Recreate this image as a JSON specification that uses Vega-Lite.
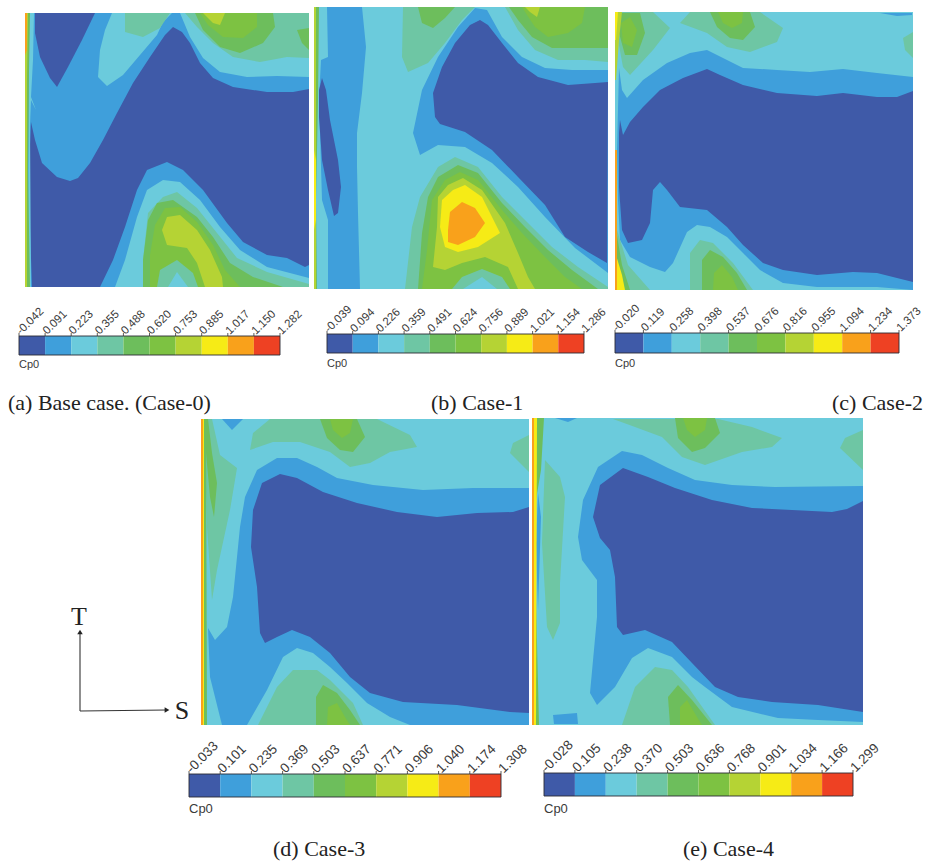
{"$schema":"https://vega.github.io/schema/vega-lite/v6.json","width":928,"height":861,"padding":0,"autosize":{"type":"none"},"background":"white","config":{"view":{"stroke":null}},
"datasets":{
"bars":[
{"bar":"a","x":19,"x2":45.1,"top":336,"bot":355,"tt":333,"tick":"-0.042","lev":0},{"bar":"a","x":45.1,"x2":71.2,"top":336,"bot":355,"tt":333,"tick":"0.091","lev":1},{"bar":"a","x":71.2,"x2":97.3,"top":336,"bot":355,"tt":333,"tick":"0.223","lev":2},{"bar":"a","x":97.3,"x2":123.4,"top":336,"bot":355,"tt":333,"tick":"0.355","lev":3},{"bar":"a","x":123.4,"x2":149.5,"top":336,"bot":355,"tt":333,"tick":"0.488","lev":4},{"bar":"a","x":149.5,"x2":175.6,"top":336,"bot":355,"tt":333,"tick":"0.620","lev":5},{"bar":"a","x":175.6,"x2":201.7,"top":336,"bot":355,"tt":333,"tick":"0.753","lev":6},{"bar":"a","x":201.7,"x2":227.8,"top":336,"bot":355,"tt":333,"tick":"0.885","lev":7},{"bar":"a","x":227.8,"x2":253.9,"top":336,"bot":355,"tt":333,"tick":"1.017","lev":8},{"bar":"a","x":253.9,"x2":280,"top":336,"bot":355,"tt":333,"tick":"1.150","lev":9},{"bar":"a","x":280,"top":336,"bot":355,"tt":333,"tick":"1.282"},
{"bar":"b","x":327,"x2":352.7,"top":334,"bot":353,"tt":331,"tick":"-0.039","lev":0},{"bar":"b","x":352.7,"x2":378.4,"top":334,"bot":353,"tt":331,"tick":"0.094","lev":1},{"bar":"b","x":378.4,"x2":404.1,"top":334,"bot":353,"tt":331,"tick":"0.226","lev":2},{"bar":"b","x":404.1,"x2":429.8,"top":334,"bot":353,"tt":331,"tick":"0.359","lev":3},{"bar":"b","x":429.8,"x2":455.5,"top":334,"bot":353,"tt":331,"tick":"0.491","lev":4},{"bar":"b","x":455.5,"x2":481.2,"top":334,"bot":353,"tt":331,"tick":"0.624","lev":5},{"bar":"b","x":481.2,"x2":506.9,"top":334,"bot":353,"tt":331,"tick":"0.756","lev":6},{"bar":"b","x":506.9,"x2":532.6,"top":334,"bot":353,"tt":331,"tick":"0.889","lev":7},{"bar":"b","x":532.6,"x2":558.3,"top":334,"bot":353,"tt":331,"tick":"1.021","lev":8},{"bar":"b","x":558.3,"x2":584,"top":334,"bot":353,"tt":331,"tick":"1.154","lev":9},{"bar":"b","x":584,"top":334,"bot":353,"tt":331,"tick":"1.286"},
{"bar":"c","x":615,"x2":643.4,"top":333,"bot":353,"tt":330,"tick":"-0.020","lev":0},{"bar":"c","x":643.4,"x2":671.8,"top":333,"bot":353,"tt":330,"tick":"0.119","lev":1},{"bar":"c","x":671.8,"x2":700.2,"top":333,"bot":353,"tt":330,"tick":"0.258","lev":2},{"bar":"c","x":700.2,"x2":728.6,"top":333,"bot":353,"tt":330,"tick":"0.398","lev":3},{"bar":"c","x":728.6,"x2":757,"top":333,"bot":353,"tt":330,"tick":"0.537","lev":4},{"bar":"c","x":757,"x2":785.4,"top":333,"bot":353,"tt":330,"tick":"0.676","lev":5},{"bar":"c","x":785.4,"x2":813.8,"top":333,"bot":353,"tt":330,"tick":"0.816","lev":6},{"bar":"c","x":813.8,"x2":842.2,"top":333,"bot":353,"tt":330,"tick":"0.955","lev":7},{"bar":"c","x":842.2,"x2":870.6,"top":333,"bot":353,"tt":330,"tick":"1.094","lev":8},{"bar":"c","x":870.6,"x2":899,"top":333,"bot":353,"tt":330,"tick":"1.234","lev":9},{"bar":"c","x":899,"top":333,"bot":353,"tt":330,"tick":"1.373"},
{"bar":"d","x":189,"x2":220.2,"top":774,"bot":797,"tt":771,"tick":"-0.033","lev":0},{"bar":"d","x":220.2,"x2":251.4,"top":774,"bot":797,"tt":771,"tick":"0.101","lev":1},{"bar":"d","x":251.4,"x2":282.6,"top":774,"bot":797,"tt":771,"tick":"0.235","lev":2},{"bar":"d","x":282.6,"x2":313.8,"top":774,"bot":797,"tt":771,"tick":"0.369","lev":3},{"bar":"d","x":313.8,"x2":345,"top":774,"bot":797,"tt":771,"tick":"0.503","lev":4},{"bar":"d","x":345,"x2":376.2,"top":774,"bot":797,"tt":771,"tick":"0.637","lev":5},{"bar":"d","x":376.2,"x2":407.4,"top":774,"bot":797,"tt":771,"tick":"0.771","lev":6},{"bar":"d","x":407.4,"x2":438.6,"top":774,"bot":797,"tt":771,"tick":"0.906","lev":7},{"bar":"d","x":438.6,"x2":469.8,"top":774,"bot":797,"tt":771,"tick":"1.040","lev":8},{"bar":"d","x":469.8,"x2":501,"top":774,"bot":797,"tt":771,"tick":"1.174","lev":9},{"bar":"d","x":501,"top":774,"bot":797,"tt":771,"tick":"1.308"},
{"bar":"e","x":544,"x2":574.9,"top":773,"bot":796,"tt":770,"tick":"-0.028","lev":0},{"bar":"e","x":574.9,"x2":605.8,"top":773,"bot":796,"tt":770,"tick":"0.105","lev":1},{"bar":"e","x":605.8,"x2":636.7,"top":773,"bot":796,"tt":770,"tick":"0.238","lev":2},{"bar":"e","x":636.7,"x2":667.6,"top":773,"bot":796,"tt":770,"tick":"0.370","lev":3},{"bar":"e","x":667.6,"x2":698.5,"top":773,"bot":796,"tt":770,"tick":"0.503","lev":4},{"bar":"e","x":698.5,"x2":729.4,"top":773,"bot":796,"tt":770,"tick":"0.636","lev":5},{"bar":"e","x":729.4,"x2":760.3,"top":773,"bot":796,"tt":770,"tick":"0.768","lev":6},{"bar":"e","x":760.3,"x2":791.2,"top":773,"bot":796,"tt":770,"tick":"0.901","lev":7},{"bar":"e","x":791.2,"x2":822.1,"top":773,"bot":796,"tt":770,"tick":"1.034","lev":8},{"bar":"e","x":822.1,"x2":853,"top":773,"bot":796,"tt":770,"tick":"1.166","lev":9},{"bar":"e","x":853,"top":773,"bot":796,"tt":770,"tick":"1.299"}
],
"frames":[{"x":19,"x2":280,"y":336,"y2":355,"row":"top"},{"x":327,"x2":584,"y":334,"y2":353,"row":"top"},{"x":615,"x2":899,"y":333,"y2":353,"row":"top"},{"x":189,"x2":501,"y":774,"y2":797,"row":"bottom"},{"x":544,"x2":853,"y":773,"y2":796,"row":"bottom"}],
"cp":[{"x":19,"y":365,"t":"Cp0","row":"top"},{"x":327,"y":364,"t":"Cp0","row":"top"},{"x":615,"y":364,"t":"Cp0","row":"top"},{"x":189,"y":809,"t":"Cp0","row":"bottom"},{"x":544,"y":809,"t":"Cp0","row":"bottom"}],
"caps":[{"x":8,"y":403,"t":"(a) Base case. (Case-0)"},{"x":431,"y":403,"t":"(b) Case-1"},{"x":832,"y":403,"t":"(c) Case-2"},{"x":273,"y":849,"t":"(d) Case-3"},{"x":683,"y":849,"t":"(e) Case-4"}],
"axes":[{"x":80,"y":711,"x2":80,"y2":634},{"x":80,"y":711,"x2":166,"y2":710}],
"heads":[{"x":80,"y":632,"dir":"up"},{"x":167,"y":710,"dir":"right"}],
"letters":[{"x":79,"y":617,"t":"T"},{"x":182,"y":711,"t":"S"}],
"poly":[
{"id":"a0","lev":1,"x":25,"y":13},{"id":"a0","lev":1,"x":309,"y":13},{"id":"a0","lev":1,"x":309,"y":287},{"id":"a0","lev":1,"x":25,"y":287},
{"id":"a1","lev":0,"x":309,"y":89},{"id":"a1","lev":0,"x":293,"y":92},{"id":"a1","lev":0,"x":267,"y":92},{"id":"a1","lev":0,"x":233,"y":87},{"id":"a1","lev":0,"x":213,"y":78},{"id":"a1","lev":0,"x":200,"y":63},{"id":"a1","lev":0,"x":190,"y":43},{"id":"a1","lev":0,"x":182,"y":32},{"id":"a1","lev":0,"x":173,"y":27},{"id":"a1","lev":0,"x":165,"y":35},{"id":"a1","lev":0,"x":150,"y":57},{"id":"a1","lev":0,"x":133,"y":83},{"id":"a1","lev":0,"x":117,"y":113},{"id":"a1","lev":0,"x":103,"y":140},{"id":"a1","lev":0,"x":90,"y":163},{"id":"a1","lev":0,"x":78,"y":178},{"id":"a1","lev":0,"x":70,"y":181},{"id":"a1","lev":0,"x":57,"y":177},{"id":"a1","lev":0,"x":42,"y":163},{"id":"a1","lev":0,"x":35,"y":140},{"id":"a1","lev":0,"x":31,"y":122},{"id":"a1","lev":0,"x":29,"y":167},{"id":"a1","lev":0,"x":29,"y":200},{"id":"a1","lev":0,"x":32,"y":287},{"id":"a1","lev":0,"x":100,"y":287},{"id":"a1","lev":0,"x":113,"y":260},{"id":"a1","lev":0,"x":125,"y":227},{"id":"a1","lev":0,"x":137,"y":190},{"id":"a1","lev":0,"x":147,"y":170},{"id":"a1","lev":0,"x":167,"y":162},{"id":"a1","lev":0,"x":183,"y":170},{"id":"a1","lev":0,"x":203,"y":190},{"id":"a1","lev":0,"x":227,"y":223},{"id":"a1","lev":0,"x":243,"y":242},{"id":"a1","lev":0,"x":267,"y":255},{"id":"a1","lev":0,"x":287,"y":258},{"id":"a1","lev":0,"x":305,"y":267},{"id":"a1","lev":0,"x":309,"y":265},
{"id":"a2","lev":0,"x":35,"y":13},{"id":"a2","lev":0,"x":95,"y":13},{"id":"a2","lev":0,"x":82,"y":40},{"id":"a2","lev":0,"x":68,"y":67},{"id":"a2","lev":0,"x":57,"y":87},{"id":"a2","lev":0,"x":50,"y":78},{"id":"a2","lev":0,"x":40,"y":57},{"id":"a2","lev":0,"x":35,"y":33},
{"id":"a3","lev":2,"x":112,"y":13},{"id":"a3","lev":2,"x":172,"y":13},{"id":"a3","lev":2,"x":163,"y":22},{"id":"a3","lev":2,"x":157,"y":35},{"id":"a3","lev":2,"x":140,"y":55},{"id":"a3","lev":2,"x":123,"y":75},{"id":"a3","lev":2,"x":107,"y":86},{"id":"a3","lev":2,"x":98,"y":77},{"id":"a3","lev":2,"x":100,"y":50},{"id":"a3","lev":2,"x":105,"y":30},
{"id":"a4","lev":2,"x":180,"y":13},{"id":"a4","lev":2,"x":309,"y":13},{"id":"a4","lev":2,"x":309,"y":77},{"id":"a4","lev":2,"x":277,"y":76},{"id":"a4","lev":2,"x":247,"y":77},{"id":"a4","lev":2,"x":220,"y":72},{"id":"a4","lev":2,"x":203,"y":58},{"id":"a4","lev":2,"x":190,"y":37},
{"id":"a5","lev":3,"x":125,"y":13},{"id":"a5","lev":3,"x":170,"y":13},{"id":"a5","lev":3,"x":160,"y":28},{"id":"a5","lev":3,"x":143,"y":37},{"id":"a5","lev":3,"x":125,"y":32},
{"id":"a6","lev":3,"x":185,"y":13},{"id":"a6","lev":3,"x":309,"y":13},{"id":"a6","lev":3,"x":309,"y":58},{"id":"a6","lev":3,"x":287,"y":57},{"id":"a6","lev":3,"x":260,"y":62},{"id":"a6","lev":3,"x":233,"y":57},{"id":"a6","lev":3,"x":213,"y":43},{"id":"a6","lev":3,"x":197,"y":27},
{"id":"a7","lev":4,"x":195,"y":13},{"id":"a7","lev":4,"x":273,"y":13},{"id":"a7","lev":4,"x":275,"y":27},{"id":"a7","lev":4,"x":263,"y":43},{"id":"a7","lev":4,"x":240,"y":53},{"id":"a7","lev":4,"x":220,"y":47},{"id":"a7","lev":4,"x":203,"y":30},
{"id":"a8","lev":4,"x":297,"y":30},{"id":"a8","lev":4,"x":309,"y":28},{"id":"a8","lev":4,"x":309,"y":50},{"id":"a8","lev":4,"x":302,"y":43},
{"id":"a9","lev":5,"x":200,"y":13},{"id":"a9","lev":5,"x":257,"y":13},{"id":"a9","lev":5,"x":257,"y":27},{"id":"a9","lev":5,"x":243,"y":38},{"id":"a9","lev":5,"x":223,"y":37},{"id":"a9","lev":5,"x":208,"y":25},
{"id":"a10","lev":6,"x":203,"y":13},{"id":"a10","lev":6,"x":225,"y":13},{"id":"a10","lev":6,"x":220,"y":25},{"id":"a10","lev":6,"x":213,"y":23},
{"id":"a11","lev":2,"x":115,"y":287},{"id":"a11","lev":2,"x":125,"y":260},{"id":"a11","lev":2,"x":137,"y":217},{"id":"a11","lev":2,"x":147,"y":190},{"id":"a11","lev":2,"x":163,"y":180},{"id":"a11","lev":2,"x":180,"y":182},{"id":"a11","lev":2,"x":200,"y":200},{"id":"a11","lev":2,"x":220,"y":227},{"id":"a11","lev":2,"x":240,"y":250},{"id":"a11","lev":2,"x":267,"y":267},{"id":"a11","lev":2,"x":309,"y":278},{"id":"a11","lev":2,"x":309,"y":287},
{"id":"a12","lev":3,"x":143,"y":287},{"id":"a12","lev":3,"x":143,"y":260},{"id":"a12","lev":3,"x":148,"y":213},{"id":"a12","lev":3,"x":163,"y":197},{"id":"a12","lev":3,"x":177,"y":192},{"id":"a12","lev":3,"x":197,"y":208},{"id":"a12","lev":3,"x":217,"y":233},{"id":"a12","lev":3,"x":237,"y":258},{"id":"a12","lev":3,"x":267,"y":272},{"id":"a12","lev":3,"x":309,"y":284},{"id":"a12","lev":3,"x":309,"y":287},
{"id":"a13","lev":4,"x":143,"y":287},{"id":"a13","lev":4,"x":143,"y":260},{"id":"a13","lev":4,"x":148,"y":220},{"id":"a13","lev":4,"x":157,"y":203},{"id":"a13","lev":4,"x":173,"y":200},{"id":"a13","lev":4,"x":197,"y":217},{"id":"a13","lev":4,"x":213,"y":237},{"id":"a13","lev":4,"x":230,"y":263},{"id":"a13","lev":4,"x":253,"y":277},{"id":"a13","lev":4,"x":283,"y":287},
{"id":"a14","lev":5,"x":150,"y":287},{"id":"a14","lev":5,"x":150,"y":255},{"id":"a14","lev":5,"x":155,"y":225},{"id":"a14","lev":5,"x":165,"y":208},{"id":"a14","lev":5,"x":180,"y":207},{"id":"a14","lev":5,"x":197,"y":222},{"id":"a14","lev":5,"x":213,"y":245},{"id":"a14","lev":5,"x":225,"y":270},{"id":"a14","lev":5,"x":240,"y":287},
{"id":"a15","lev":6,"x":162,"y":230},{"id":"a15","lev":6,"x":167,"y":217},{"id":"a15","lev":6,"x":180,"y":215},{"id":"a15","lev":6,"x":197,"y":230},{"id":"a15","lev":6,"x":210,"y":250},{"id":"a15","lev":6,"x":222,"y":277},{"id":"a15","lev":6,"x":223,"y":287},{"id":"a15","lev":6,"x":205,"y":287},{"id":"a15","lev":6,"x":197,"y":263},{"id":"a15","lev":6,"x":187,"y":248},{"id":"a15","lev":6,"x":167,"y":245},
{"id":"a17","lev":3,"x":157,"y":287},{"id":"a17","lev":3,"x":160,"y":270},{"id":"a17","lev":3,"x":177,"y":260},{"id":"a17","lev":3,"x":193,"y":273},{"id":"a17","lev":3,"x":198,"y":287},
{"id":"a18","lev":2,"x":168,"y":287},{"id":"a18","lev":2,"x":177,"y":272},{"id":"a18","lev":2,"x":188,"y":287},
{"id":"a19","lev":2,"x":29,"y":13},{"id":"a19","lev":2,"x":34,"y":13},{"id":"a19","lev":2,"x":33,"y":60},{"id":"a19","lev":2,"x":31,"y":97},{"id":"a19","lev":2,"x":36,"y":110},{"id":"a19","lev":2,"x":31,"y":100},{"id":"a19","lev":2,"x":30,"y":125},{"id":"a19","lev":2,"x":31,"y":287},{"id":"a19","lev":2,"x":28,"y":287},
{"id":"a20","lev":4,"x":25,"y":13},{"id":"a20","lev":4,"x":30,"y":13},{"id":"a20","lev":4,"x":29,"y":70},{"id":"a20","lev":4,"x":28,"y":170},{"id":"a20","lev":4,"x":30,"y":287},{"id":"a20","lev":4,"x":25,"y":287},
{"id":"a21","lev":6,"x":25,"y":13},{"id":"a21","lev":6,"x":28,"y":13},{"id":"a21","lev":6,"x":27,"y":80},{"id":"a21","lev":6,"x":27,"y":287},{"id":"a21","lev":6,"x":25,"y":287},
{"id":"a22","lev":8,"x":25,"y":13},{"id":"a22","lev":8,"x":27,"y":13},{"id":"a22","lev":8,"x":27,"y":50},{"id":"a22","lev":8,"x":25,"y":55},
{"id":"b0","lev":2,"x":314,"y":7},{"id":"b0","lev":2,"x":608,"y":7},{"id":"b0","lev":2,"x":608,"y":289},{"id":"b0","lev":2,"x":314,"y":289},
{"id":"b1","lev":1,"x":327,"y":7},{"id":"b1","lev":1,"x":362,"y":7},{"id":"b1","lev":1,"x":366,"y":47},{"id":"b1","lev":1,"x":362,"y":93},{"id":"b1","lev":1,"x":357,"y":133},{"id":"b1","lev":1,"x":357,"y":167},{"id":"b1","lev":1,"x":358,"y":213},{"id":"b1","lev":1,"x":360,"y":289},{"id":"b1","lev":1,"x":328,"y":289},{"id":"b1","lev":1,"x":328,"y":220},{"id":"b1","lev":1,"x":322,"y":200},{"id":"b1","lev":1,"x":319,"y":100},{"id":"b1","lev":1,"x":321,"y":60},{"id":"b1","lev":1,"x":328,"y":57},
{"id":"b2","lev":0,"x":322,"y":78},{"id":"b2","lev":0,"x":326,"y":90},{"id":"b2","lev":0,"x":330,"y":120},{"id":"b2","lev":0,"x":338,"y":160},{"id":"b2","lev":0,"x":341,"y":187},{"id":"b2","lev":0,"x":338,"y":213},{"id":"b2","lev":0,"x":334,"y":216},{"id":"b2","lev":0,"x":328,"y":190},{"id":"b2","lev":0,"x":322,"y":160},{"id":"b2","lev":0,"x":319,"y":117},{"id":"b2","lev":0,"x":319,"y":90},
{"id":"b3","lev":3,"x":403,"y":7},{"id":"b3","lev":3,"x":475,"y":7},{"id":"b3","lev":3,"x":462,"y":20},{"id":"b3","lev":3,"x":445,"y":43},{"id":"b3","lev":3,"x":428,"y":63},{"id":"b3","lev":3,"x":408,"y":72},{"id":"b3","lev":3,"x":402,"y":57},
{"id":"b4","lev":4,"x":418,"y":7},{"id":"b4","lev":4,"x":455,"y":7},{"id":"b4","lev":4,"x":445,"y":18},{"id":"b4","lev":4,"x":433,"y":28},{"id":"b4","lev":4,"x":422,"y":23},
{"id":"b5","lev":1,"x":475,"y":8},{"id":"b5","lev":1,"x":458,"y":27},{"id":"b5","lev":1,"x":438,"y":57},{"id":"b5","lev":1,"x":422,"y":90},{"id":"b5","lev":1,"x":413,"y":133},{"id":"b5","lev":1,"x":420,"y":155},{"id":"b5","lev":1,"x":438,"y":145},{"id":"b5","lev":1,"x":465,"y":147},{"id":"b5","lev":1,"x":492,"y":163},{"id":"b5","lev":1,"x":518,"y":187},{"id":"b5","lev":1,"x":545,"y":217},{"id":"b5","lev":1,"x":575,"y":248},{"id":"b5","lev":1,"x":608,"y":273},{"id":"b5","lev":1,"x":608,"y":70},{"id":"b5","lev":1,"x":572,"y":70},{"id":"b5","lev":1,"x":545,"y":68},{"id":"b5","lev":1,"x":522,"y":57},{"id":"b5","lev":1,"x":502,"y":37},{"id":"b5","lev":1,"x":487,"y":10},
{"id":"b6","lev":0,"x":480,"y":20},{"id":"b6","lev":0,"x":470,"y":25},{"id":"b6","lev":0,"x":455,"y":43},{"id":"b6","lev":0,"x":442,"y":67},{"id":"b6","lev":0,"x":433,"y":93},{"id":"b6","lev":0,"x":435,"y":117},{"id":"b6","lev":0,"x":440,"y":124},{"id":"b6","lev":0,"x":465,"y":132},{"id":"b6","lev":0,"x":492,"y":150},{"id":"b6","lev":0,"x":518,"y":177},{"id":"b6","lev":0,"x":545,"y":205},{"id":"b6","lev":0,"x":565,"y":237},{"id":"b6","lev":0,"x":588,"y":252},{"id":"b6","lev":0,"x":607,"y":263},{"id":"b6","lev":0,"x":608,"y":82},{"id":"b6","lev":0,"x":595,"y":83},{"id":"b6","lev":0,"x":568,"y":85},{"id":"b6","lev":0,"x":538,"y":77},{"id":"b6","lev":0,"x":518,"y":63},{"id":"b6","lev":0,"x":502,"y":43},{"id":"b6","lev":0,"x":488,"y":25},
{"id":"b7","lev":3,"x":505,"y":7},{"id":"b7","lev":3,"x":608,"y":7},{"id":"b7","lev":3,"x":608,"y":62},{"id":"b7","lev":3,"x":585,"y":60},{"id":"b7","lev":3,"x":558,"y":60},{"id":"b7","lev":3,"x":535,"y":50},{"id":"b7","lev":3,"x":518,"y":30},
{"id":"b8","lev":4,"x":509,"y":7},{"id":"b8","lev":4,"x":608,"y":7},{"id":"b8","lev":4,"x":608,"y":48},{"id":"b8","lev":4,"x":578,"y":48},{"id":"b8","lev":4,"x":552,"y":48},{"id":"b8","lev":4,"x":532,"y":37},{"id":"b8","lev":4,"x":518,"y":20},
{"id":"b9","lev":5,"x":522,"y":7},{"id":"b9","lev":5,"x":585,"y":7},{"id":"b9","lev":5,"x":582,"y":23},{"id":"b9","lev":5,"x":568,"y":33},{"id":"b9","lev":5,"x":548,"y":37},{"id":"b9","lev":5,"x":535,"y":27},{"id":"b9","lev":5,"x":527,"y":15},
{"id":"b10","lev":6,"x":525,"y":7},{"id":"b10","lev":6,"x":540,"y":7},{"id":"b10","lev":6,"x":537,"y":17},{"id":"b10","lev":6,"x":530,"y":12},
{"id":"b11","lev":3,"x":405,"y":289},{"id":"b11","lev":3,"x":412,"y":227},{"id":"b11","lev":3,"x":420,"y":197},{"id":"b11","lev":3,"x":438,"y":167},{"id":"b11","lev":3,"x":455,"y":157},{"id":"b11","lev":3,"x":478,"y":167},{"id":"b11","lev":3,"x":502,"y":197},{"id":"b11","lev":3,"x":525,"y":220},{"id":"b11","lev":3,"x":552,"y":247},{"id":"b11","lev":3,"x":578,"y":267},{"id":"b11","lev":3,"x":608,"y":287},{"id":"b11","lev":3,"x":608,"y":289},
{"id":"b12","lev":4,"x":418,"y":289},{"id":"b12","lev":4,"x":422,"y":233},{"id":"b12","lev":4,"x":428,"y":197},{"id":"b12","lev":4,"x":438,"y":177},{"id":"b12","lev":4,"x":458,"y":165},{"id":"b12","lev":4,"x":478,"y":173},{"id":"b12","lev":4,"x":502,"y":203},{"id":"b12","lev":4,"x":525,"y":227},{"id":"b12","lev":4,"x":548,"y":250},{"id":"b12","lev":4,"x":572,"y":270},{"id":"b12","lev":4,"x":598,"y":289},
{"id":"b13","lev":5,"x":422,"y":289},{"id":"b13","lev":5,"x":427,"y":250},{"id":"b13","lev":5,"x":432,"y":200},{"id":"b13","lev":5,"x":445,"y":180},{"id":"b13","lev":5,"x":460,"y":172},{"id":"b13","lev":5,"x":478,"y":180},{"id":"b13","lev":5,"x":502,"y":210},{"id":"b13","lev":5,"x":522,"y":233},{"id":"b13","lev":5,"x":545,"y":257},{"id":"b13","lev":5,"x":565,"y":277},{"id":"b13","lev":5,"x":582,"y":289},
{"id":"b14","lev":6,"x":433,"y":267},{"id":"b14","lev":6,"x":437,"y":227},{"id":"b14","lev":6,"x":438,"y":197},{"id":"b14","lev":6,"x":448,"y":185},{"id":"b14","lev":6,"x":463,"y":178},{"id":"b14","lev":6,"x":482,"y":190},{"id":"b14","lev":6,"x":505,"y":223},{"id":"b14","lev":6,"x":518,"y":253},{"id":"b14","lev":6,"x":528,"y":277},{"id":"b14","lev":6,"x":535,"y":289},{"id":"b14","lev":6,"x":518,"y":289},{"id":"b14","lev":6,"x":508,"y":267},{"id":"b14","lev":6,"x":485,"y":257},{"id":"b14","lev":6,"x":462,"y":263},{"id":"b14","lev":6,"x":445,"y":270},
{"id":"b15","lev":7,"x":440,"y":227},{"id":"b15","lev":7,"x":442,"y":200},{"id":"b15","lev":7,"x":453,"y":190},{"id":"b15","lev":7,"x":465,"y":185},{"id":"b15","lev":7,"x":482,"y":197},{"id":"b15","lev":7,"x":500,"y":233},{"id":"b15","lev":7,"x":478,"y":247},{"id":"b15","lev":7,"x":458,"y":252},{"id":"b15","lev":7,"x":445,"y":247},
{"id":"b16","lev":8,"x":448,"y":230},{"id":"b16","lev":8,"x":450,"y":212},{"id":"b16","lev":8,"x":462,"y":202},{"id":"b16","lev":8,"x":475,"y":208},{"id":"b16","lev":8,"x":485,"y":223},{"id":"b16","lev":8,"x":475,"y":237},{"id":"b16","lev":8,"x":458,"y":245},{"id":"b16","lev":8,"x":448,"y":242},
{"id":"b17","lev":3,"x":452,"y":289},{"id":"b17","lev":3,"x":462,"y":277},{"id":"b17","lev":3,"x":482,"y":269},{"id":"b17","lev":3,"x":502,"y":277},{"id":"b17","lev":3,"x":510,"y":289},
{"id":"b18","lev":2,"x":463,"y":289},{"id":"b18","lev":2,"x":482,"y":277},{"id":"b18","lev":2,"x":497,"y":289},
{"id":"b19","lev":4,"x":314,"y":7},{"id":"b19","lev":4,"x":319,"y":7},{"id":"b19","lev":4,"x":318,"y":100},{"id":"b19","lev":4,"x":316,"y":200},{"id":"b19","lev":4,"x":317,"y":289},{"id":"b19","lev":4,"x":314,"y":289},
{"id":"b20","lev":6,"x":314,"y":7},{"id":"b20","lev":6,"x":316,"y":7},{"id":"b20","lev":6,"x":316,"y":289},{"id":"b20","lev":6,"x":314,"y":289},
{"id":"b21","lev":7,"x":314,"y":150},{"id":"b21","lev":7,"x":316,"y":160},{"id":"b21","lev":7,"x":316,"y":220},{"id":"b21","lev":7,"x":314,"y":230},
{"id":"c0","lev":2,"x":615,"y":12},{"id":"c0","lev":2,"x":913,"y":12},{"id":"c0","lev":2,"x":913,"y":290},{"id":"c0","lev":2,"x":615,"y":290},
{"id":"c1","lev":1,"x":619,"y":68},{"id":"c1","lev":1,"x":622,"y":90},{"id":"c1","lev":1,"x":627,"y":98},{"id":"c1","lev":1,"x":643,"y":80},{"id":"c1","lev":1,"x":667,"y":63},{"id":"c1","lev":1,"x":690,"y":53},{"id":"c1","lev":1,"x":707,"y":50},{"id":"c1","lev":1,"x":723,"y":58},{"id":"c1","lev":1,"x":743,"y":68},{"id":"c1","lev":1,"x":777,"y":70},{"id":"c1","lev":1,"x":810,"y":72},{"id":"c1","lev":1,"x":843,"y":69},{"id":"c1","lev":1,"x":877,"y":73},{"id":"c1","lev":1,"x":913,"y":77},{"id":"c1","lev":1,"x":913,"y":290},{"id":"c1","lev":1,"x":877,"y":287},{"id":"c1","lev":1,"x":843,"y":287},{"id":"c1","lev":1,"x":817,"y":287},{"id":"c1","lev":1,"x":783,"y":283},{"id":"c1","lev":1,"x":760,"y":270},{"id":"c1","lev":1,"x":743,"y":253},{"id":"c1","lev":1,"x":727,"y":237},{"id":"c1","lev":1,"x":710,"y":227},{"id":"c1","lev":1,"x":697,"y":225},{"id":"c1","lev":1,"x":687,"y":232},{"id":"c1","lev":1,"x":673,"y":263},{"id":"c1","lev":1,"x":665,"y":272},{"id":"c1","lev":1,"x":650,"y":267},{"id":"c1","lev":1,"x":630,"y":257},{"id":"c1","lev":1,"x":620,"y":240},{"id":"c1","lev":1,"x":618,"y":200},{"id":"c1","lev":1,"x":617,"y":150},
{"id":"c2","lev":0,"x":623,"y":135},{"id":"c2","lev":0,"x":630,"y":122},{"id":"c2","lev":0,"x":643,"y":107},{"id":"c2","lev":0,"x":660,"y":90},{"id":"c2","lev":0,"x":683,"y":78},{"id":"c2","lev":0,"x":707,"y":69},{"id":"c2","lev":0,"x":720,"y":75},{"id":"c2","lev":0,"x":743,"y":85},{"id":"c2","lev":0,"x":777,"y":93},{"id":"c2","lev":0,"x":817,"y":96},{"id":"c2","lev":0,"x":843,"y":93},{"id":"c2","lev":0,"x":877,"y":97},{"id":"c2","lev":0,"x":897,"y":97},{"id":"c2","lev":0,"x":913,"y":91},{"id":"c2","lev":0,"x":913,"y":282},{"id":"c2","lev":0,"x":877,"y":273},{"id":"c2","lev":0,"x":853,"y":272},{"id":"c2","lev":0,"x":817,"y":275},{"id":"c2","lev":0,"x":783,"y":270},{"id":"c2","lev":0,"x":763,"y":263},{"id":"c2","lev":0,"x":743,"y":245},{"id":"c2","lev":0,"x":727,"y":227},{"id":"c2","lev":0,"x":707,"y":210},{"id":"c2","lev":0,"x":680,"y":207},{"id":"c2","lev":0,"x":667,"y":190},{"id":"c2","lev":0,"x":660,"y":182},{"id":"c2","lev":0,"x":653,"y":190},{"id":"c2","lev":0,"x":650,"y":223},{"id":"c2","lev":0,"x":642,"y":240},{"id":"c2","lev":0,"x":628,"y":243},{"id":"c2","lev":0,"x":622,"y":230},{"id":"c2","lev":0,"x":619,"y":187},{"id":"c2","lev":0,"x":619,"y":133},{"id":"c2","lev":0,"x":620,"y":120},
{"id":"c3","lev":1,"x":880,"y":13},{"id":"c3","lev":1,"x":912,"y":13},{"id":"c3","lev":1,"x":912,"y":15},{"id":"c3","lev":1,"x":897,"y":16},
{"id":"c4","lev":3,"x":618,"y":12},{"id":"c4","lev":3,"x":653,"y":12},{"id":"c4","lev":3,"x":670,"y":28},{"id":"c4","lev":3,"x":653,"y":50},{"id":"c4","lev":3,"x":630,"y":75},{"id":"c4","lev":3,"x":623,"y":67},{"id":"c4","lev":3,"x":618,"y":40},
{"id":"c5","lev":4,"x":619,"y":13},{"id":"c5","lev":4,"x":640,"y":13},{"id":"c5","lev":4,"x":645,"y":33},{"id":"c5","lev":4,"x":637,"y":55},{"id":"c5","lev":4,"x":625,"y":55},{"id":"c5","lev":4,"x":619,"y":33},
{"id":"c6","lev":5,"x":621,"y":23},{"id":"c6","lev":5,"x":630,"y":17},{"id":"c6","lev":5,"x":637,"y":30},{"id":"c6","lev":5,"x":632,"y":47},{"id":"c6","lev":5,"x":623,"y":43},
{"id":"c7","lev":3,"x":690,"y":12},{"id":"c7","lev":3,"x":760,"y":12},{"id":"c7","lev":3,"x":783,"y":28},{"id":"c7","lev":3,"x":777,"y":42},{"id":"c7","lev":3,"x":750,"y":52},{"id":"c7","lev":3,"x":727,"y":47},{"id":"c7","lev":3,"x":707,"y":33},{"id":"c7","lev":3,"x":680,"y":23},
{"id":"c8","lev":4,"x":710,"y":12},{"id":"c8","lev":4,"x":750,"y":12},{"id":"c8","lev":4,"x":755,"y":27},{"id":"c8","lev":4,"x":743,"y":40},{"id":"c8","lev":4,"x":730,"y":38},{"id":"c8","lev":4,"x":717,"y":27},
{"id":"c9","lev":5,"x":718,"y":12},{"id":"c9","lev":5,"x":743,"y":12},{"id":"c9","lev":5,"x":742,"y":23},{"id":"c9","lev":5,"x":732,"y":28},{"id":"c9","lev":5,"x":723,"y":23},
{"id":"c10","lev":3,"x":913,"y":32},{"id":"c10","lev":3,"x":903,"y":38},{"id":"c10","lev":3,"x":905,"y":50},{"id":"c10","lev":3,"x":913,"y":58},
{"id":"c11","lev":3,"x":690,"y":290},{"id":"c11","lev":3,"x":690,"y":253},{"id":"c11","lev":3,"x":700,"y":240},{"id":"c11","lev":3,"x":713,"y":243},{"id":"c11","lev":3,"x":733,"y":263},{"id":"c11","lev":3,"x":753,"y":290},
{"id":"c12","lev":4,"x":702,"y":290},{"id":"c12","lev":4,"x":702,"y":260},{"id":"c12","lev":4,"x":710,"y":250},{"id":"c12","lev":4,"x":723,"y":257},{"id":"c12","lev":4,"x":737,"y":273},{"id":"c12","lev":4,"x":747,"y":290},
{"id":"c13","lev":5,"x":713,"y":290},{"id":"c13","lev":5,"x":714,"y":273},{"id":"c13","lev":5,"x":722,"y":265},{"id":"c13","lev":5,"x":732,"y":277},{"id":"c13","lev":5,"x":738,"y":290},
{"id":"c14","lev":3,"x":617,"y":230},{"id":"c14","lev":3,"x":628,"y":265},{"id":"c14","lev":3,"x":650,"y":290},{"id":"c14","lev":3,"x":615,"y":290},
{"id":"c15","lev":4,"x":616,"y":230},{"id":"c15","lev":4,"x":622,"y":265},{"id":"c15","lev":4,"x":630,"y":290},{"id":"c15","lev":4,"x":615,"y":290},
{"id":"c16","lev":7,"x":616,"y":255},{"id":"c16","lev":7,"x":622,"y":275},{"id":"c16","lev":7,"x":625,"y":290},{"id":"c16","lev":7,"x":615,"y":290},
{"id":"c17","lev":8,"x":615,"y":150},{"id":"c17","lev":8,"x":617,"y":150},{"id":"c17","lev":8,"x":617,"y":290},{"id":"c17","lev":8,"x":615,"y":290},
{"id":"c18","lev":6,"x":615,"y":12},{"id":"c18","lev":6,"x":622,"y":12},{"id":"c18","lev":6,"x":619,"y":40},{"id":"c18","lev":6,"x":616,"y":80},{"id":"c18","lev":6,"x":615,"y":80},
{"id":"c19","lev":7,"x":615,"y":12},{"id":"c19","lev":7,"x":618,"y":12},{"id":"c19","lev":7,"x":616,"y":40},{"id":"c19","lev":7,"x":615,"y":40},
{"id":"d0","lev":2,"x":201,"y":419},{"id":"d0","lev":2,"x":529,"y":419},{"id":"d0","lev":2,"x":529,"y":725},{"id":"d0","lev":2,"x":201,"y":725},
{"id":"d1","lev":1,"x":208,"y":628},{"id":"d1","lev":1,"x":215,"y":640},{"id":"d1","lev":1,"x":227,"y":627},{"id":"d1","lev":1,"x":233,"y":597},{"id":"d1","lev":1,"x":240,"y":527},{"id":"d1","lev":1,"x":245,"y":497},{"id":"d1","lev":1,"x":257,"y":470},{"id":"d1","lev":1,"x":277,"y":458},{"id":"d1","lev":1,"x":297,"y":458},{"id":"d1","lev":1,"x":317,"y":467},{"id":"d1","lev":1,"x":337,"y":478},{"id":"d1","lev":1,"x":373,"y":485},{"id":"d1","lev":1,"x":423,"y":490},{"id":"d1","lev":1,"x":473,"y":488},{"id":"d1","lev":1,"x":529,"y":488},{"id":"d1","lev":1,"x":529,"y":725},{"id":"d1","lev":1,"x":410,"y":725},{"id":"d1","lev":1,"x":390,"y":717},{"id":"d1","lev":1,"x":367,"y":703},{"id":"d1","lev":1,"x":347,"y":683},{"id":"d1","lev":1,"x":330,"y":667},{"id":"d1","lev":1,"x":313,"y":653},{"id":"d1","lev":1,"x":297,"y":648},{"id":"d1","lev":1,"x":283,"y":657},{"id":"d1","lev":1,"x":267,"y":690},{"id":"d1","lev":1,"x":247,"y":725},{"id":"d1","lev":1,"x":222,"y":725},{"id":"d1","lev":1,"x":210,"y":677},
{"id":"d2","lev":0,"x":253,"y":510},{"id":"d2","lev":0,"x":262,"y":483},{"id":"d2","lev":0,"x":280,"y":474},{"id":"d2","lev":0,"x":297,"y":478},{"id":"d2","lev":0,"x":323,"y":492},{"id":"d2","lev":0,"x":357,"y":503},{"id":"d2","lev":0,"x":397,"y":512},{"id":"d2","lev":0,"x":437,"y":517},{"id":"d2","lev":0,"x":477,"y":513},{"id":"d2","lev":0,"x":513,"y":512},{"id":"d2","lev":0,"x":529,"y":507},{"id":"d2","lev":0,"x":529,"y":713},{"id":"d2","lev":0,"x":510,"y":712},{"id":"d2","lev":0,"x":457,"y":705},{"id":"d2","lev":0,"x":403,"y":702},{"id":"d2","lev":0,"x":370,"y":693},{"id":"d2","lev":0,"x":350,"y":677},{"id":"d2","lev":0,"x":330,"y":653},{"id":"d2","lev":0,"x":310,"y":637},{"id":"d2","lev":0,"x":292,"y":630},{"id":"d2","lev":0,"x":277,"y":637},{"id":"d2","lev":0,"x":265,"y":643},{"id":"d2","lev":0,"x":260,"y":633},{"id":"d2","lev":0,"x":257,"y":587},{"id":"d2","lev":0,"x":251,"y":547},
{"id":"d3","lev":1,"x":222,"y":419},{"id":"d3","lev":1,"x":243,"y":419},{"id":"d3","lev":1,"x":232,"y":430},
{"id":"d4","lev":3,"x":253,"y":433},{"id":"d4","lev":3,"x":270,"y":419},{"id":"d4","lev":3,"x":377,"y":419},{"id":"d4","lev":3,"x":410,"y":435},{"id":"d4","lev":3,"x":417,"y":447},{"id":"d4","lev":3,"x":390,"y":452},{"id":"d4","lev":3,"x":370,"y":463},{"id":"d4","lev":3,"x":350,"y":467},{"id":"d4","lev":3,"x":330,"y":452},{"id":"d4","lev":3,"x":300,"y":442},{"id":"d4","lev":3,"x":273,"y":442},{"id":"d4","lev":3,"x":250,"y":450},
{"id":"d5","lev":4,"x":320,"y":419},{"id":"d5","lev":4,"x":357,"y":419},{"id":"d5","lev":4,"x":365,"y":437},{"id":"d5","lev":4,"x":353,"y":452},{"id":"d5","lev":4,"x":340,"y":450},{"id":"d5","lev":4,"x":327,"y":438},
{"id":"d6","lev":5,"x":330,"y":419},{"id":"d6","lev":5,"x":353,"y":419},{"id":"d6","lev":5,"x":350,"y":433},{"id":"d6","lev":5,"x":342,"y":438},{"id":"d6","lev":5,"x":333,"y":430},
{"id":"d7","lev":3,"x":529,"y":435},{"id":"d7","lev":3,"x":513,"y":443},{"id":"d7","lev":3,"x":510,"y":453},{"id":"d7","lev":3,"x":529,"y":472},
{"id":"d8","lev":3,"x":205,"y":419},{"id":"d8","lev":3,"x":212,"y":419},{"id":"d8","lev":3,"x":220,"y":455},{"id":"d8","lev":3,"x":237,"y":468},{"id":"d8","lev":3,"x":230,"y":510},{"id":"d8","lev":3,"x":217,"y":570},{"id":"d8","lev":3,"x":212,"y":600},{"id":"d8","lev":3,"x":207,"y":527},{"id":"d8","lev":3,"x":205,"y":453},
{"id":"d9","lev":4,"x":203,"y":419},{"id":"d9","lev":4,"x":208,"y":419},{"id":"d9","lev":4,"x":212,"y":453},{"id":"d9","lev":4,"x":217,"y":483},{"id":"d9","lev":4,"x":214,"y":517},{"id":"d9","lev":4,"x":210,"y":497},{"id":"d9","lev":4,"x":206,"y":453},{"id":"d9","lev":4,"x":203,"y":430},
{"id":"d10","lev":4,"x":201,"y":419},{"id":"d10","lev":4,"x":206,"y":419},{"id":"d10","lev":4,"x":207,"y":725},{"id":"d10","lev":4,"x":201,"y":725},
{"id":"d11","lev":7,"x":201,"y":419},{"id":"d11","lev":7,"x":204,"y":419},{"id":"d11","lev":7,"x":204,"y":725},{"id":"d11","lev":7,"x":201,"y":725},
{"id":"d12","lev":8,"x":201,"y":419},{"id":"d12","lev":8,"x":203,"y":419},{"id":"d12","lev":8,"x":203,"y":725},{"id":"d12","lev":8,"x":201,"y":725},
{"id":"d13","lev":3,"x":258,"y":725},{"id":"d13","lev":3,"x":277,"y":687},{"id":"d13","lev":3,"x":293,"y":670},{"id":"d13","lev":3,"x":317,"y":670},{"id":"d13","lev":3,"x":330,"y":680},{"id":"d13","lev":3,"x":353,"y":703},{"id":"d13","lev":3,"x":363,"y":725},
{"id":"d14","lev":4,"x":316,"y":725},{"id":"d14","lev":4,"x":316,"y":697},{"id":"d14","lev":4,"x":323,"y":685},{"id":"d14","lev":4,"x":337,"y":693},{"id":"d14","lev":4,"x":350,"y":710},{"id":"d14","lev":4,"x":360,"y":725},
{"id":"d15","lev":5,"x":327,"y":725},{"id":"d15","lev":5,"x":328,"y":707},{"id":"d15","lev":5,"x":337,"y":703},{"id":"d15","lev":5,"x":345,"y":717},{"id":"d15","lev":5,"x":350,"y":725},
{"id":"e0","lev":2,"x":532,"y":418},{"id":"e0","lev":2,"x":863,"y":418},{"id":"e0","lev":2,"x":863,"y":725},{"id":"e0","lev":2,"x":532,"y":725},
{"id":"e1","lev":1,"x":578,"y":537},{"id":"e1","lev":1,"x":583,"y":500},{"id":"e1","lev":1,"x":598,"y":467},{"id":"e1","lev":1,"x":622,"y":451},{"id":"e1","lev":1,"x":642,"y":455},{"id":"e1","lev":1,"x":668,"y":468},{"id":"e1","lev":1,"x":695,"y":480},{"id":"e1","lev":1,"x":732,"y":485},{"id":"e1","lev":1,"x":775,"y":487},{"id":"e1","lev":1,"x":863,"y":486},{"id":"e1","lev":1,"x":863,"y":722},{"id":"e1","lev":1,"x":818,"y":720},{"id":"e1","lev":1,"x":778,"y":718},{"id":"e1","lev":1,"x":732,"y":707},{"id":"e1","lev":1,"x":705,"y":687},{"id":"e1","lev":1,"x":692,"y":677},{"id":"e1","lev":1,"x":672,"y":657},{"id":"e1","lev":1,"x":648,"y":648},{"id":"e1","lev":1,"x":632,"y":658},{"id":"e1","lev":1,"x":615,"y":687},{"id":"e1","lev":1,"x":597,"y":705},{"id":"e1","lev":1,"x":590,"y":693},{"id":"e1","lev":1,"x":597,"y":617},{"id":"e1","lev":1,"x":597,"y":580},{"id":"e1","lev":1,"x":582,"y":560},
{"id":"e2","lev":0,"x":593,"y":517},{"id":"e2","lev":0,"x":600,"y":485},{"id":"e2","lev":0,"x":623,"y":468},{"id":"e2","lev":0,"x":648,"y":477},{"id":"e2","lev":0,"x":675,"y":488},{"id":"e2","lev":0,"x":712,"y":500},{"id":"e2","lev":0,"x":752,"y":508},{"id":"e2","lev":0,"x":792,"y":510},{"id":"e2","lev":0,"x":832,"y":512},{"id":"e2","lev":0,"x":847,"y":509},{"id":"e2","lev":0,"x":863,"y":501},{"id":"e2","lev":0,"x":863,"y":712},{"id":"e2","lev":0,"x":818,"y":705},{"id":"e2","lev":0,"x":772,"y":702},{"id":"e2","lev":0,"x":738,"y":697},{"id":"e2","lev":0,"x":715,"y":687},{"id":"e2","lev":0,"x":692,"y":663},{"id":"e2","lev":0,"x":672,"y":642},{"id":"e2","lev":0,"x":645,"y":630},{"id":"e2","lev":0,"x":623,"y":635},{"id":"e2","lev":0,"x":617,"y":627},{"id":"e2","lev":0,"x":615,"y":577},{"id":"e2","lev":0,"x":610,"y":550},{"id":"e2","lev":0,"x":600,"y":538},
{"id":"e3","lev":3,"x":613,"y":419},{"id":"e3","lev":3,"x":718,"y":419},{"id":"e3","lev":3,"x":752,"y":427},{"id":"e3","lev":3,"x":782,"y":438},{"id":"e3","lev":3,"x":772,"y":447},{"id":"e3","lev":3,"x":742,"y":452},{"id":"e3","lev":3,"x":705,"y":465},{"id":"e3","lev":3,"x":682,"y":457},{"id":"e3","lev":3,"x":662,"y":437},{"id":"e3","lev":3,"x":635,"y":427},
{"id":"e4","lev":4,"x":675,"y":418},{"id":"e4","lev":4,"x":715,"y":418},{"id":"e4","lev":4,"x":720,"y":433},{"id":"e4","lev":4,"x":705,"y":448},{"id":"e4","lev":4,"x":692,"y":452},{"id":"e4","lev":4,"x":678,"y":438},
{"id":"e5","lev":5,"x":683,"y":418},{"id":"e5","lev":5,"x":707,"y":418},{"id":"e5","lev":5,"x":705,"y":430},{"id":"e5","lev":5,"x":695,"y":437},{"id":"e5","lev":5,"x":687,"y":430},
{"id":"e6","lev":3,"x":863,"y":430},{"id":"e6","lev":3,"x":845,"y":438},{"id":"e6","lev":3,"x":840,"y":448},{"id":"e6","lev":3,"x":863,"y":470},
{"id":"e7","lev":3,"x":545,"y":460},{"id":"e7","lev":3,"x":560,"y":477},{"id":"e7","lev":3,"x":565,"y":497},{"id":"e7","lev":3,"x":560,"y":583},{"id":"e7","lev":3,"x":560,"y":623},{"id":"e7","lev":3,"x":553,"y":640},{"id":"e7","lev":3,"x":547,"y":627},{"id":"e7","lev":3,"x":542,"y":543},
{"id":"e8","lev":1,"x":538,"y":493},{"id":"e8","lev":1,"x":541,"y":517},{"id":"e8","lev":1,"x":538,"y":610},{"id":"e8","lev":1,"x":536,"y":543},
{"id":"e9","lev":1,"x":555,"y":418},{"id":"e9","lev":1,"x":577,"y":418},{"id":"e9","lev":1,"x":568,"y":422},
{"id":"e10","lev":1,"x":553,"y":715},{"id":"e10","lev":1,"x":577,"y":713},{"id":"e10","lev":1,"x":578,"y":724},{"id":"e10","lev":1,"x":554,"y":724},
{"id":"e11","lev":3,"x":622,"y":725},{"id":"e11","lev":3,"x":635,"y":687},{"id":"e11","lev":3,"x":655,"y":667},{"id":"e11","lev":3,"x":672,"y":670},{"id":"e11","lev":3,"x":688,"y":687},{"id":"e11","lev":3,"x":715,"y":725},
{"id":"e12","lev":4,"x":670,"y":725},{"id":"e12","lev":4,"x":668,"y":697},{"id":"e12","lev":4,"x":678,"y":685},{"id":"e12","lev":4,"x":692,"y":700},{"id":"e12","lev":4,"x":712,"y":725},
{"id":"e13","lev":5,"x":680,"y":725},{"id":"e13","lev":5,"x":680,"y":707},{"id":"e13","lev":5,"x":687,"y":700},{"id":"e13","lev":5,"x":697,"y":717},{"id":"e13","lev":5,"x":702,"y":725},
{"id":"e14","lev":4,"x":532,"y":418},{"id":"e14","lev":4,"x":544,"y":418},{"id":"e14","lev":4,"x":541,"y":470},{"id":"e14","lev":4,"x":536,"y":500},{"id":"e14","lev":4,"x":536,"y":600},{"id":"e14","lev":4,"x":539,"y":725},{"id":"e14","lev":4,"x":532,"y":725},
{"id":"e15","lev":7,"x":532,"y":418},{"id":"e15","lev":7,"x":537,"y":418},{"id":"e15","lev":7,"x":536,"y":725},{"id":"e15","lev":7,"x":532,"y":725},
{"id":"e16","lev":8,"x":532,"y":418},{"id":"e16","lev":8,"x":534,"y":418},{"id":"e16","lev":8,"x":534,"y":725},{"id":"e16","lev":8,"x":532,"y":725}
]},
"encoding":{"x":{"field":"x","type":"quantitative","scale":{"domain":[0,928],"nice":false,"zero":false},"axis":null},"y":{"field":"y","type":"quantitative","scale":{"domain":[861,0],"nice":false,"zero":false},"axis":null}},
"layer":[
{"data":{"name":"poly"},"transform":[{"window":[{"op":"row_number","as":"seq"}]}],"mark":{"type":"line","interpolate":"linear-closed","filled":true,"strokeWidth":0},"encoding":{"detail":{"field":"id"},"order":{"field":"seq","type":"quantitative"},"color":{"field":"lev","type":"nominal","legend":null,"scale":{"domain":[0,1,2,3,4,5,6,7,8,9],"range":["#3F5AA8","#3F9FDB","#6BCBDC","#6EC6A4","#6DBE5C","#7DC242","#B5D334","#F6EB16","#F9A11B","#EE4123"]}}}},
{"data":{"name":"bars"},"transform":[{"filter":"isValid(datum.lev)"}],"mark":{"type":"rect"},"encoding":{"x2":{"field":"x2"},"y":{"field":"top","type":"quantitative"},"y2":{"field":"bot"},"color":{"field":"lev","type":"nominal","legend":null}}},
{"data":{"name":"frames"},"mark":{"type":"rect","fillOpacity":0,"stroke":"#2a2a33","strokeWidth":0.9},"encoding":{"x2":{"field":"x2"},"y2":{"field":"y2"}}},
{"data":{"name":"bars"},"mark":{"type":"rule","color":"#333333","strokeWidth":0.8},"encoding":{"y":{"field":"top","type":"quantitative"},"y2":{"field":"tt"}}},
{"data":{"name":"bars"},"transform":[{"filter":"datum.bar=='a'||datum.bar=='b'||datum.bar=='c'"}],"mark":{"type":"text","angle":315,"align":"left","baseline":"middle","font":"Liberation Sans","fontSize":11.5,"color":"#3a3a3a"},"encoding":{"y":{"field":"tt","type":"quantitative"},"text":{"field":"tick"}}},
{"data":{"name":"bars"},"transform":[{"filter":"datum.bar=='d'||datum.bar=='e'"}],"mark":{"type":"text","angle":315,"align":"left","baseline":"middle","font":"Liberation Sans","fontSize":13.5,"color":"#3a3a3a"},"encoding":{"y":{"field":"tt","type":"quantitative"},"text":{"field":"tick"}}},
{"data":{"name":"cp"},"transform":[{"filter":"datum.row=='top'"}],"mark":{"type":"text","align":"left","baseline":"middle","font":"Liberation Sans","fontSize":11,"color":"#3a3a3a"},"encoding":{"text":{"field":"t"}}},
{"data":{"name":"cp"},"transform":[{"filter":"datum.row=='bottom'"}],"mark":{"type":"text","align":"left","baseline":"middle","font":"Liberation Sans","fontSize":13,"color":"#3a3a3a"},"encoding":{"text":{"field":"t"}}},
{"data":{"name":"caps"},"mark":{"type":"text","align":"left","baseline":"middle","font":"Liberation Serif","fontSize":22,"color":"#222222"},"encoding":{"text":{"field":"t"}}},
{"data":{"name":"axes"},"mark":{"type":"rule","color":"#333333","strokeWidth":1.1},"encoding":{"x2":{"field":"x2"},"y2":{"field":"y2"}}},
{"data":{"name":"heads"},"mark":{"type":"point","filled":true,"size":30,"opacity":1,"color":"#222222"},"encoding":{"shape":{"field":"dir","type":"nominal","legend":null,"scale":{"domain":["up","right"],"range":["triangle-up","triangle-right"]}}}},
{"data":{"name":"letters"},"mark":{"type":"text","align":"center","baseline":"middle","font":"Liberation Serif","fontSize":26,"color":"#222222"},"encoding":{"text":{"field":"t"}}}
]}
